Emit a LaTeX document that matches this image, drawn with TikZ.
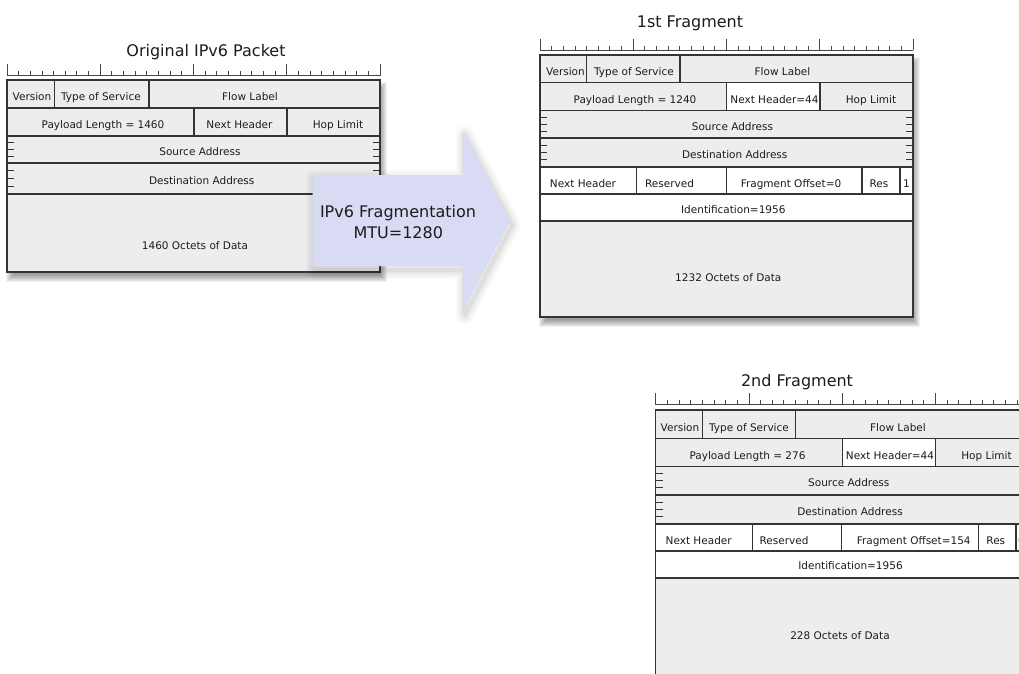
\documentclass[tikz,border=0pt]{standalone}
\usepackage{fontspec}
\setmainfont{DejaVu Sans}
\definecolor{cellgray}{RGB}{237,237,237}
\definecolor{gridc}{RGB}{52,52,52}
\definecolor{rulerc}{RGB}{70,70,70}
\definecolor{arrowc}{RGB}{217,218,243}
\definecolor{txtc}{RGB}{28,28,28}
\newcommand\pktruler[3]{%
  \draw[rulerc, line width=0.9pt] (#1,#3) -- (#2,#3);
  \foreach \i in {0,...,32}{%
    \pgfmathsetmacro\xx{#1+\i*(#2-#1)/32}%
    \pgfmathtruncatemacro\mm{mod(\i,8)}%
    \ifnum\mm=0
      \draw[rulerc, line width=0.9pt] (\xx,#3) -- (\xx,#3-11.5);%
    \else
      \draw[rulerc, line width=0.9pt] (\xx,#3) -- (\xx,#3-4.5);%
    \fi}%
}
\newcommand\contticks[4]{%
  \foreach \f in {0.25,0.5,0.75}{%
    \draw[gridline] (#1,{#3+\f*(#4-#3)}) -- ++(7,0);
    \draw[gridline] (#2,{#3+\f*(#4-#3)}) -- ++(-7,0);}%
}
\newcommand\boxshadow[4]{%
  \foreach \k in {0,...,7}{%
    \fill[black,opacity=0.055] (#1+6-\k,#2+9-\k) rectangle (#3+\k,#4+3+\k);}%
}
\begin{document}
\begin{tikzpicture}[x=1pt,y=-1pt,
  gridline/.style={draw=gridc, line width=1.1pt},
  cell/.style={anchor=base, inner sep=0pt, text=txtc, font=\fontsize{10.5}{12}\selectfont},
  titletxt/.style={anchor=base, inner sep=0pt, text=txtc, font=\fontsize{16}{19}\selectfont},
  arrowtxt/.style={anchor=base, inner sep=0pt, text=txtc, font=\fontsize{16}{19}\selectfont}]
\useasboundingbox (0,0) rectangle (1019,673);
\clip (0,0) rectangle (1019,673);
\fill[white] (0,0) rectangle (1019,673);

% ---------- shadows ----------
\boxshadow{7}{80}{380}{272}
\boxshadow{540}{55}{913}{317}
\boxshadow{655.7}{410}{1028.7}{700}

% ---------- Original packet ----------
\pktruler{7}{380}{75.5}
\fill[cellgray] (7,80) rectangle (380,272);
\draw[gridline] (7,80) rectangle (380,272);
\foreach \yy in {108,136,163,194} \draw[gridline] (7,\yy) -- (380,\yy);
\draw[gridline] (54.3,80) -- (54.3,108);
\draw[gridline] (149,80) -- (149,108);
\draw[gridline] (194,108) -- (194,136);
\draw[gridline] (287,108) -- (287,136);
\contticks{7}{380}{136}{163}
\contticks{7}{380}{163}{194}

% ---------- 1st fragment ----------
\pktruler{540}{913}{50}
\fill[cellgray] (540,55) rectangle (913,317);
\fill[white] (726.5,82.7) rectangle (820,110.7);
\fill[white] (540,167) rectangle (913,221);
\draw[gridline] (540,55) rectangle (913,317);
\foreach \yy in {82.7,110.7,138,167,194,221} \draw[gridline] (540,\yy) -- (913,\yy);
\draw[gridline] (586.6,55) -- (586.6,82.7);
\draw[gridline] (680,55) -- (680,82.7);
\draw[gridline] (726.5,82.7) -- (726.5,110.7);
\draw[gridline] (820,82.7) -- (820,110.7);
\foreach \xx in {636.7,726.7,862,900} \draw[gridline] (\xx,167) -- (\xx,194);
\contticks{540}{913}{110.7}{138}
\contticks{540}{913}{138}{167}

% ---------- 2nd fragment ----------
\pktruler{655.7}{1028.7}{404.5}
\fill[cellgray] (655.7,410) rectangle (1028.7,700);
\fill[white] (842.2,438.5) rectangle (935.5,466.5);
\fill[white] (655.7,524) rectangle (1028.7,578);
\draw[gridline] (655.7,410) rectangle (1028.7,700);
\foreach \yy in {438.5,466.5,495,524,551,578} \draw[gridline] (655.7,\yy) -- (1028.7,\yy);
\draw[gridline] (702.3,410) -- (702.3,438.5);
\draw[gridline] (795.7,410) -- (795.7,438.5);
\draw[gridline] (842.2,438.5) -- (842.2,466.5);
\draw[gridline] (935.5,438.5) -- (935.5,466.5);
\foreach \xx in {752.7,841.7,978.3,1016} \draw[gridline] (\xx,524) -- (\xx,551);
\contticks{655.7}{1028.7}{466.5}{495}
\contticks{655.7}{1028.7}{495}{524}

% ---------- block arrow ----------
\foreach \w/\o in {18/0.025,13/0.03,8/0.035,4/0.04}{%
  \draw[black, opacity=\o, line width=\w pt, line join=round, shift={(2,4)}]
    (312.7,175) -- (462.7,175) -- (462.7,131) -- (510,221) -- (462.7,311)
    -- (462.7,266) -- (312.7,266) -- cycle;}
\fill[arrowc] (312.7,175) -- (462.7,175) -- (462.7,131) -- (510,221)
  -- (462.7,311) -- (462.7,266) -- (312.7,266) -- cycle;
\node[arrowtxt] (frag) at (398,217.3) {IPv6 Fragmentation};
\node[arrowtxt] (mtu) at (398.3,238.3) {MTU=1280};

% ---------- titles ----------
\node[titletxt] (t0) at (206,56.7) {Original IPv6 Packet};
\node[titletxt] (t1) at (690,27.3) {1st Fragment};
\node[titletxt] (t2) at (797,386.7) {2nd Fragment};

% ---------- original texts ----------
\node[cell] (o1) at (32,100) {Version};
\node[cell] (o2) at (101,100) {Type of Service};
\node[cell] (o3) at (250,100) {Flow Label};
\node[cell] (o4) at (103,128) {Payload Length = 1460};
\node[cell] (o5) at (239.5,128) {Next Header};
\node[cell] (o6) at (338,128) {Hop Limit};
\node[cell] (o7) at (200,155.3) {Source Address};
\node[cell] (o8) at (201.7,184) {Destination Address};
\node[cell] (o9) at (195,249.3) {1460 Octets of Data};

% ---------- 1st fragment texts ----------
\node[cell] (a1) at (565.5,75) {Version};
\node[cell] (a2) at (634,75) {Type of Service};
\node[cell] (a3) at (782.5,75) {Flow Label};
\node[cell] (a4) at (635,103.5) {Payload Length = 1240};
\node[cell] (a5) at (774.5,103.5) {Next Header=44};
\node[cell] (a6) at (871,103.5) {Hop Limit};
\node[cell] (a7) at (732.5,130.5) {Source Address};
\node[cell] (a8) at (734.7,158.3) {Destination Address};
\node[cell] (a9) at (583,187.5) {Next Header};
\node[cell] (a10) at (669.5,187.5) {Reserved};
\node[cell] (a11) at (791,187.5) {Fragment Offset=0};
\node[cell] (a12) at (879,187.5) {Res};
\node[cell] (a13) at (906.5,187.5) {1};
\node[cell] (a14) at (733.3,213) {Identification=1956};
\node[cell] (a15) at (728.3,281.7) {1232 Octets of Data};

% ---------- 2nd fragment texts ----------
\node[cell] (b1) at (680,431.5) {Version};
\node[cell] (b2) at (749,431.5) {Type of Service};
\node[cell] (b3) at (898,431.5) {Flow Label};
\node[cell] (b4) at (747.5,459) {Payload Length = 276};
\node[cell] (b5) at (890,459) {Next Header=44};
\node[cell] (b6) at (986.5,459) {Hop Limit};
\node[cell] (b7) at (848.8,486.5) {Source Address};
\node[cell] (b8) at (850,515.3) {Destination Address};
\node[cell] (b9) at (698.7,544.3) {Next Header};
\node[cell] (b10) at (784,544.3) {Reserved};
\node[cell] (b11) at (913.7,544.3) {Fragment Offset=154};
\node[cell] (b12) at (995.8,544.3) {Res};
\node[cell] (b13) at (1021.5,544.3) {0};
\node[cell] (b14) at (850.5,569.5) {Identification=1956};
\node[cell] (b15) at (840,639) {228 Octets of Data};
\end{tikzpicture}
\end{document}
